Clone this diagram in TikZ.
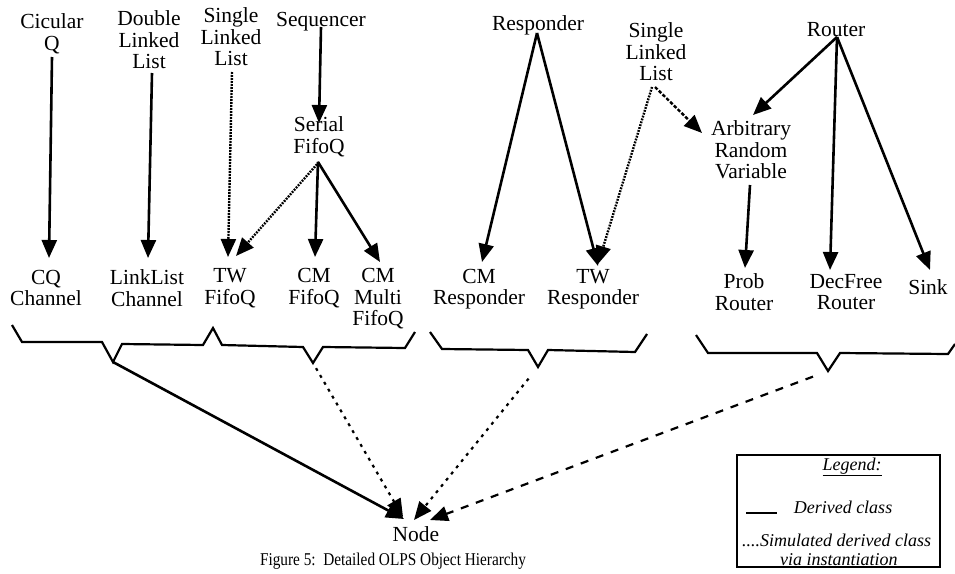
\documentclass[tikz,border=0pt]{standalone}
\usepackage{fontspec}
\setmainfont{Liberation Serif}
\newfontfamily\capfont[FakeStretch=0.85]{Liberation Serif}
\usetikzlibrary{arrows.meta}
\begin{document}
\begin{tikzpicture}[x=1pt,y=-1pt,
  lbl/.style={font=\fontsize{21.5}{21.5}\selectfont, align=center, inner sep=0pt},
  leg/.style={font=\fontsize{18}{20}\selectfont\itshape, inner sep=0pt},
  tipA/.style={-{Triangle[length=18pt,width=15pt]}},
  inh/.style={line width=2.6pt, tipA},
  simdot/.style={line width=2.4pt, dash pattern=on 1.8pt off 1.2pt, tipA},
  simdash/.style={line width=2.4pt, dash pattern=on 3.5pt off 1.8pt, tipA},
  farDot/.style={line width=2.2pt, dash pattern=on 3pt off 5pt, tipA},
  farDash/.style={line width=2.2pt, dash pattern=on 8pt off 8pt, tipA},
  bracel/.style={line width=2.2pt, line join=miter}
]
\useasboundingbox (0,0) rectangle (955,573);

% top row
\node[lbl] (cq)     at (52,34)   {Cicular\\Q};
\node[lbl] (dll)    at (149,40)  {Double\\Linked\\List};
\node[lbl] (sllA)   at (231,37)  {Single\\Linked\\List};
\node[lbl] (seq)    at (321,22)  {Sequencer};
\node[lbl] (serial) at (319,137) {Serial\\FifoQ};
\node[lbl] (resp)   at (538,25)  {Responder};
\node[lbl] (sllB)   at (656,52)  {Single\\Linked\\List};
\node[lbl] (router) at (836,30)  {Router};
\node[lbl] (arv)    at (751,150) {Arbitrary\\Random\\Variable};

% bottom row
\node[lbl] (cqch) at (46,288)  {CQ\\Channel};
\node[lbl] (llch) at (147,288) {LinkList\\Channel};
\node[lbl] (twf)  at (230,288) {TW\\FifoQ};
\node[lbl] (cmf)  at (314,288) {CM\\FifoQ};
\node[lbl] (cmmf) at (378,299) {CM\\Multi\\FifoQ};
\node[lbl] (cmr)  at (479,289) {CM\\Responder};
\node[lbl] (twr)  at (593,289) {TW\\Responder};
\node[lbl] (prob) at (744,292) {Prob\\Router};
\node[lbl] (dec)  at (846,292) {DecFree\\Router};
\node[lbl] (sink) at (928,287) {Sink};

\node[lbl] (nd) at (416,534) {Node};
\node[inner sep=0pt, font=\capfont\fontsize{18}{18}\selectfont] (cap) at (393,561) {Figure 5:\ \ Detailed OLPS Object Hierarchy};

% connectors, upper part
\draw[inh] ([shift={(0,23)}]cq.center) -- ([shift={(3,-30)}]cqch.center);
\draw[inh] ([shift={(3,33)}]dll.center) -- ([shift={(1,-30)}]llch.center);
\draw[simdot] ([shift={(1,35)}]sllA.center) -- ([shift={(-2,-31)}]twf.center);
\draw[inh] ([shift={(0,5)}]seq.center) -- ([shift={(0,-14)}]serial.center);
\draw[simdot] ([shift={(0,25)}]serial.center) -- ([shift={(6,-32)}]twf.center);
\draw[inh] ([shift={(-1,25)}]serial.center) -- ([shift={(1,-31)}]cmf.center);
\draw[inh] ([shift={(-1,25)}]serial.center) -- ([shift={(2,-37)}]cmmf.center);
\draw[inh] ([shift={(-1,8)}]resp.center) -- ([shift={(3,-27)}]cmr.center);
\draw[inh] ([shift={(-1,8)}]resp.center) -- ([shift={(5,-23)}]twr.center);
\draw[simdot] ([shift={(-4,35)}]sllB.center) -- ([shift={(5,-25)}]twr.center);
\draw[simdash] ([shift={(-1,35)}]sllB.center) -- ([shift={(-49,-17)}]arv.center);
\draw[inh] ([shift={(1,7)}]router.center) -- ([shift={(2,-35)}]arv.center);
\draw[inh] ([shift={(1,7)}]router.center) -- ([shift={(-16,-22)}]dec.center);
\draw[inh] ([shift={(1,7)}]router.center) -- ([shift={(2,-17)}]sink.center);
\draw[inh] ([shift={(-1,35)}]arv.center) -- ([shift={(1,-24)}]prob.center);

% braces
\coordinate (b1) at (113,362);
\coordinate (b2) at (313,363);
\coordinate (b3) at (538,367);
\coordinate (b4) at (828,371);
\draw[bracel] (12,325) -- (22,342) -- (102,342) -- (b1) -- (122,344) -- (203,345)
  -- (213,328) -- (222,345) -- (303,347) -- (b2) -- (323,347) -- (405,348) -- (415,332);
\draw[bracel] (430,332) -- (442,349) -- (528,350) -- (b3) -- (548,350) -- (635,352) -- (647,334);
\draw[bracel] (696,335) -- (708,353) -- (817,353) -- (b4) -- (840,353) -- (948,354) -- (955,344);

% connectors to Node
\draw[inh] (b1) -- ([shift={(-12,-15)}]nd.center);
\draw[farDot, shorten <=6pt] (b2) -- ([shift={(-13,-17)}]nd.center);
\draw[farDot, shorten <=15pt] (b3) -- ([shift={(-2,-14)}]nd.center);
\draw[farDash, shorten <=16pt] (b4) -- ([shift={(14,-14)}]nd.center);

% legend
\node[draw, line width=1.2pt, minimum width=203pt, minimum height=112pt, inner sep=0pt] (legbox) at (838.5,511) {};
\node[leg] (legT) at (852,467) {\underline{Legend:}};
\draw[line width=2.5pt] (746,513) -- (777,513);
\node[leg] (legD) at (843,507) {Derived class};
\node[leg, anchor=west] (legS) at (742,540) {....Simulated derived class};
\node[leg, anchor=west] (legV) at (780,560) {via instantiation};
\end{tikzpicture}
\end{document}
